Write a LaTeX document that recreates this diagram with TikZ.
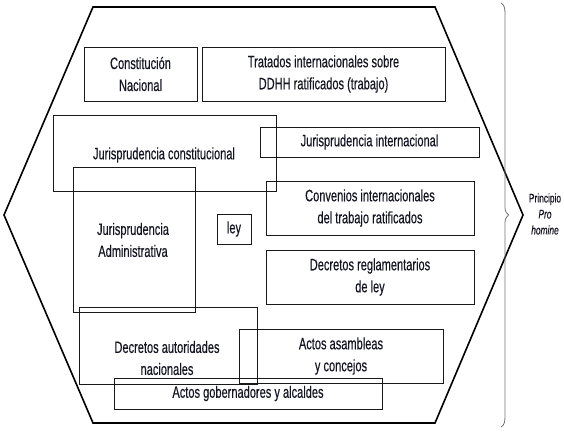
\documentclass[tikz,border=0pt]{standalone}
\usepackage{fontspec}
\setmainfont{Liberation Sans}[FakeStretch=0.67,FakeBold=0.35]
\definecolor{textc}{RGB}{20,20,35}
\definecolor{linec}{RGB}{25,25,25}
\newcommand\mkbox[6]{%
  \node[box, minimum width={#4-#2}, minimum height={#5-#3}] (#1) at ({(#2+#4)/2},{(#3+#5)/2}) {#6};}
\begin{document}
\begin{tikzpicture}[x=1pt,y=-1pt,
  box/.style={draw=linec, line width=0.9pt, inner sep=0pt, align=center,
    font=\fontsize{16.5}{22}\selectfont, text=textc},
  txt/.style={align=center, inner sep=0pt, font=\fontsize{16.5}{22}\selectfont, text=textc},
  side/.style={font=\fontsize{12.5}{16}\selectfont, text=textc, align=center, inner sep=0pt},
  hex/.style={draw=black, line width=1.6pt, line join=miter},
  hexbase/.style={draw=black, line width=2.5pt},
  bracestyle/.style={draw=black!55, line width=0.8pt}]
\useasboundingbox (0,0) rectangle (564,432);
% hexagon
\draw[hex] (93,7) -- (435,7) -- (523,215) -- (435,423) -- (93,423) -- (4,215) -- cycle;
\draw[hexbase] (93,423) -- (435,423);
% brace
\draw[bracestyle] (501,3) .. controls (504.5,5) and (505,8) .. (505,15) -- (505,205)
  .. controls (505,211) .. (508.5,215) .. controls (505,219) .. (505,225) -- (505,415)
  .. controls (505,422) and (504.5,425) .. (501,427);
\node[side] (pp) at (545,214) {Principio\\\textit{Pro}\\\textit{homine}};
% boxes
\mkbox{cn}{84}{47}{197}{101}{Constitución\\Nacional}
\mkbox{td}{202}{47}{445}{101}{Tratados internacionales sobre\\DDHH ratificados (trabajo)}
\mkbox{jc}{53}{115}{276}{191}{}
\node[txt] (jct) at (164,155) {Jurisprudencia constitucional};
\mkbox{ji}{260}{127}{479}{157}{Jurisprudencia internacional}
\mkbox{cv}{266}{181}{474}{235}{Convenios internacionales\\del trabajo ratificados}
\mkbox{ja}{73}{167}{195}{312}{}
\node[txt] (jat) at (133,240) {Jurisprudencia\\Administrativa};
\mkbox{ley}{217}{214}{251}{244}{ley}
\mkbox{dr}{266}{250}{474}{304}{Decretos reglamentarios\\de ley}
\mkbox{da}{79}{307}{257}{384}{}
\node[txt] (dat) at (167,358) {Decretos autoridades\\nacionales};
\mkbox{aa}{239}{329}{443}{383}{Actos asambleas\\y concejos}
\mkbox{ag}{114}{378}{382}{409}{Actos gobernadores y alcaldes}
\end{tikzpicture}
\end{document}
